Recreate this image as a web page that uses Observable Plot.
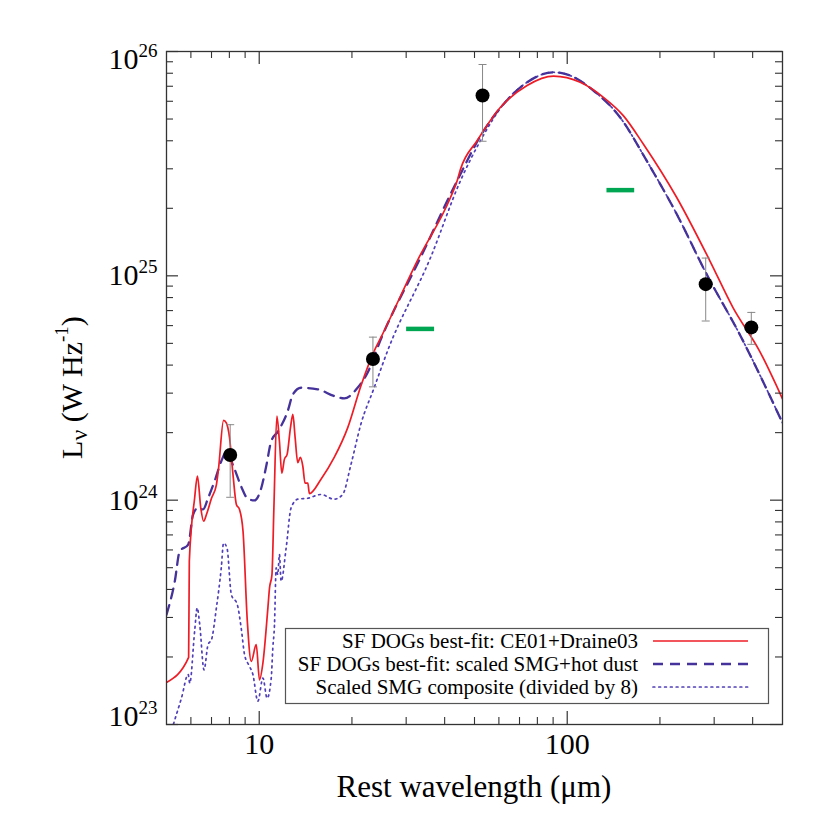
<!DOCTYPE html>
<html><head><meta charset="utf-8">
<script src="https://cdn.jsdelivr.net/npm/d3@7"></script>
<script src="https://cdn.jsdelivr.net/npm/@observablehq/plot@0.6"></script>
<style>
body{margin:0;background:#fff;}
#chart{position:relative;width:830px;height:830px;}
</style></head><body><div id="chart"></div>
<script>
// ---- Data (rest wavelength in micron, L_nu in W/Hz) ----
const redWave = [5.0,5.90,5.93,6.17,6.30,6.46,6.60,6.74,7.00,7.26,7.38,7.66,7.82,8.01,8.22,8.43,8.63,8.86,9.15,9.42,9.78,10.02,10.28,10.67,10.80,11.0,11.16,11.41,11.63,11.84,12.07,12.32,12.63,12.86,13.08,13.34,13.60,13.85,14.09,14.38,14.55,15.87,17.52,19.37,21.38,23.61,24.82,32.63,41.81,43.95,45.05,51.04,60.72,74.07,90.3,110.2,131.1,152.1,176.6,226.5,290.2,345.3,421.3,500];
const redLum = [1.54e23,1.99e23,5.34e23,1.02e24,1.28e24,9.24e23,8.06e23,8.63e23,1.02e24,1.17e24,1.39e24,2.27e24,2.21e24,1.90e24,1.30e24,9.57e23,9.09e23,7.27e23,2.88e23,1.91e23,2.27e23,1.58e23,1.88e23,3.31e23,4.06e23,4.66e23,9.24e23,2.37e24,1.83e24,1.32e24,1.52e24,1.60e24,2.10e24,2.41e24,1.90e24,1.47e24,1.55e24,1.42e24,1.19e24,1.19e24,1.07e24,1.24e24,1.55e24,2.10e24,3.23e24,4.62e24,5.30e24,1.17e25,2.24e25,2.66e25,2.99e25,4.01e25,5.64e25,7.05e25,7.76e25,7.29e25,6.25e25,5.18e25,3.87e25,2.24e25,1.17e25,7.22e24,4.62e24,2.83e24];

const dashWave = [5.0,5.32,5.52,5.88,6.10,6.33,6.57,6.82,7.17,7.53,7.82,8.24,8.74,9.15,9.64,10.15,10.54,10.94,11.52,12.38,12.86,13.67,15.49,17.52,18.88,20.86,22.48,24.82,33.44,42.86,53.6,62.2,74.07,90.3,102.3,121.6,148.4,181.1,226.5,283.2,362.9,500];
const dashLum = [3.09e23,4.35e23,5.92e23,6.34e23,8.63e23,9.24e23,9.09e23,1.02e24,1.22e24,1.49e24,1.64e24,1.42e24,1.15e24,1.02e24,9.97e23,1.13e24,1.42e24,1.83e24,2.03e24,2.50e24,2.96e24,3.17e24,3.12e24,2.91e24,2.84e24,3.17e24,3.70e24,5.21e24,1.21e25,2.48e25,4.44e25,5.84e25,7.29e25,8.08e25,7.81e25,6.70e25,5.09e25,3.26e25,1.89e25,1.02e25,5.49e24,2.21e24];

const dotWave = [5.0,5.32,5.59,5.88,5.95,6.17,6.29,6.41,6.62,6.82,7.00,7.26,7.53,7.66,7.86,8.12,8.49,8.74,8.96,9.23,9.54,9.90,10.28,10.61,10.94,11.07,11.21,11.35,11.49,11.63,11.78,12.23,12.69,13.34,14.38,15.87,17.52,18.66,19.85,21.38,23.61,26.09,36.03,45.05,52.3,62.2,74.07,90.3,102.3,121.6,148.4,181.1,226.5,283.2,362.9,500];
const dotLum = [8.0e22,1.05e23,1.31e23,1.67e23,1.53e23,2.60e23,3.31e23,2.79e23,1.75e23,2.27e23,2.39e23,3.31e23,4.99e23,6.44e23,6.12e23,3.79e23,3.42e23,2.69e23,2.05e23,1.85e23,1.67e23,1.27e23,1.61e23,1.31e23,1.61e23,2.19e23,2.79e23,4.99e23,4.66e23,5.73e23,4.35e23,6.12e23,9.24e23,1.01e24,1.02e24,1.06e24,1.01e24,1.06e24,1.44e24,2.18e24,3.17e24,4.62e24,1.21e25,2.66e25,4.01e25,5.84e25,7.29e25,8.08e25,7.81e25,6.70e25,5.09e25,3.26e25,1.89e25,1.02e25,5.49e24,2.21e24];

const obsWave = [8.05, 23.4, 53.1, 281.6, 396];
const obsLum  = [1.59e24, 4.26e24, 6.37e25, 9.18e24, 5.89e24];
const obsLo   = [1.03e24, 3.2e24, 3.98e25, 6.29e24, 4.95e24];
const obsHi   = [2.17e24, 5.33e24, 8.75e25, 1.2e25, 6.87e24];

const limLo  = [30.1, 134.6];
const limHi  = [37.1, 165.6];
const limLum = [5.8e24, 2.41e25];

const xMajor = [10, 100];
const xMinor = [6,7,8,9,20,30,40,50,60,70,80,90,200,300,400];
const yMajor = [1e23, 1e24, 1e25, 1e26];
const yMinor = [2e23,3e23,4e23,5e23,6e23,7e23,8e23,9e23,2e24,3e24,4e24,5e24,6e24,7e24,8e24,9e24,2e25,3e25,4e25,5e25,6e25,7e25,8e25,9e25];

const legendLabels = ["SF DOGs best-fit: CE01+Draine03","SF DOGs best-fit: scaled SMG+hot dust","Scaled SMG composite (divided by 8)"];

// ---- Build tables ----
const red = redWave.map((w,i)=>({w, L: redLum[i]}));
const dash = dashWave.map((w,i)=>({w, L: dashLum[i]}));
const dots = dotWave.map((w,i)=>({w, L: dotLum[i]}));
const obs = obsWave.map((w,i)=>({w, L: obsLum[i], lo: obsLo[i], hi: obsHi[i]}));
const lims = limLum.map((L,i)=>({L, lo: limLo[i], hi: limHi[i]}));

const W = 830, H = 830, mL = 166, mR = 48, mT = 51, mB = 106;
const iW = W - mL - mR, iH = H - mT - mB;
const FONT = "'Liberation Serif','Times New Roman',serif";
const RED = "#ee1c25", DASH = "#45329a", DOT = "#4f3fb8", GREEN = "#00a651", TICK = "#333";
const capSym = {draw(ctx){ ctx.moveTo(-4,0); ctx.lineTo(4,0); }};

const yOff = t => t === 1e26 ? 8 : (t === 1e23 ? -8 : 0);
const yLabelMarks = yMajor.flatMap(t => [
  Plot.text([t], {y: d=>d, frameAnchor:"left", text: ()=>"10", textAnchor:"end", dx:-28, dy: yOff(t), fontSize:30, fill:"#000"}),
  Plot.text([t], {y: d=>d, frameAnchor:"left", text: d=>String(Math.round(Math.log10(d))), textAnchor:"end", dx:-9, dy: yOff(t)-8.5, fontSize:19, fill:"#000"})
]);

const svg = Plot.plot({
  width: W, height: H,
  marginLeft: mL, marginRight: mR, marginTop: mT, marginBottom: mB,
  style: {fontFamily: FONT, background: "#fff"},
  x: {type: "log", domain: [5, 500], axis: null},
  y: {type: "log", domain: [1e23, 1e26], axis: null},
  marks: [
    Plot.line(dots, {x:"w", y:"L", stroke: DOT, strokeWidth: 1.7, strokeDasharray: "1.8,4", strokeLinecap:"round", curve:"monotone-x", clip: true}),
    Plot.line(dash, {x:"w", y:"L", stroke: DASH, strokeWidth: 2.3, strokeDasharray: "10,7", curve:"monotone-x", clip: true}),
    Plot.line(red, {x:"w", y:"L", stroke: RED, strokeWidth: 1.7, curve:"monotone-x", clip: true}),
    Plot.ruleY(lims, {y:"L", x1:"lo", x2:"hi", stroke: GREEN, strokeWidth: 4.5}),
    Plot.ruleX(obs, {x:"w", y1:"lo", y2:"hi", stroke:"#888", strokeWidth: 1}),
    Plot.dot(obs, {x:"w", y:"lo", symbol: capSym, stroke:"#888", strokeWidth:1, fill:"none"}),
    Plot.dot(obs, {x:"w", y:"hi", symbol: capSym, stroke:"#888", strokeWidth:1, fill:"none"}),
    Plot.dot(obs, {x:"w", y:"L", r: 7, fill:"#000", stroke:"none"}),
    // ticks (inward) on all four sides
    Plot.tickX(xMajor, {x: d=>d, insetTop: iH-13, stroke: TICK, strokeWidth: 1.2}),
    Plot.tickX(xMajor, {x: d=>d, insetBottom: iH-13, stroke: TICK, strokeWidth: 1.2}),
    Plot.tickX(xMinor, {x: d=>d, insetTop: iH-7, stroke: TICK, strokeWidth: 1.1}),
    Plot.tickX(xMinor, {x: d=>d, insetBottom: iH-7, stroke: TICK, strokeWidth: 1.1}),
    Plot.tickY(yMajor, {y: d=>d, insetRight: iW-12, stroke: TICK, strokeWidth: 1.2}),
    Plot.tickY(yMajor, {y: d=>d, insetLeft: iW-12, stroke: TICK, strokeWidth: 1.2}),
    Plot.tickY(yMinor, {y: d=>d, insetRight: iW-7, stroke: TICK, strokeWidth: 1.1}),
    Plot.tickY(yMinor, {y: d=>d, insetLeft: iW-7, stroke: TICK, strokeWidth: 1.1}),
    Plot.frame({stroke: TICK, strokeWidth: 1.3}),
    Plot.text(xMajor, {x: d=>d, frameAnchor:"bottom", text: d=>String(d), dy: 29, fontSize: 30, fill:"#000"}),
    ...yLabelMarks
  ]
});

const s = d3.select(svg);
// axis titles
s.append("text").attr("x", mL + iW/2).attr("y", 797).attr("text-anchor","middle")
  .attr("font-family", FONT).attr("font-size", 31).attr("fill","#000").text("Rest wavelength (\u03bcm)");
const yt = s.append("text").attr("transform", `translate(82,${mT + iH/2}) rotate(-90)`)
  .attr("text-anchor","middle").attr("font-family", FONT).attr("font-size", 30).attr("fill","#000");
yt.append("tspan").text("L");
yt.append("tspan").attr("font-size", 24).attr("dy", 5).text("\u03bd");
yt.append("tspan").attr("dy", -5).text(" (W Hz");
yt.append("tspan").attr("font-size", 19).attr("dy", -14).text("-1");
yt.append("tspan").attr("dy", 14).text(")");

// legend (inside the plot, lower right)
const lg = s.append("g");
lg.append("rect").attr("x", 285.5).attr("y", 628.5).attr("width", 483).attr("height", 75)
  .attr("fill","#fff").attr("stroke","#555").attr("stroke-width",1.2);
const styles = [
  {stroke: RED, w: 1.7, dash: null},
  {stroke: DASH, w: 2.3, dash: "10,7"},
  {stroke: DOT, w: 1.7, dash: "1.8,4"}
];
legendLabels.forEach((lab, i) => {
  const cy = 641 + i*23;
  lg.append("text").attr("x", 638).attr("y", cy + 7).attr("text-anchor","end")
    .attr("font-family", FONT).attr("font-size", 21).attr("fill","#000").text(lab);
  const ln = lg.append("line").attr("x1", 653).attr("x2", 748).attr("y1", cy).attr("y2", cy)
    .attr("stroke", styles[i].stroke).attr("stroke-width", styles[i].w);
  if (styles[i].dash) ln.attr("stroke-dasharray", styles[i].dash);
  if (i === 2) ln.attr("stroke-linecap","round");
});

document.getElementById("chart").appendChild(svg);
</script>
</body></html>
